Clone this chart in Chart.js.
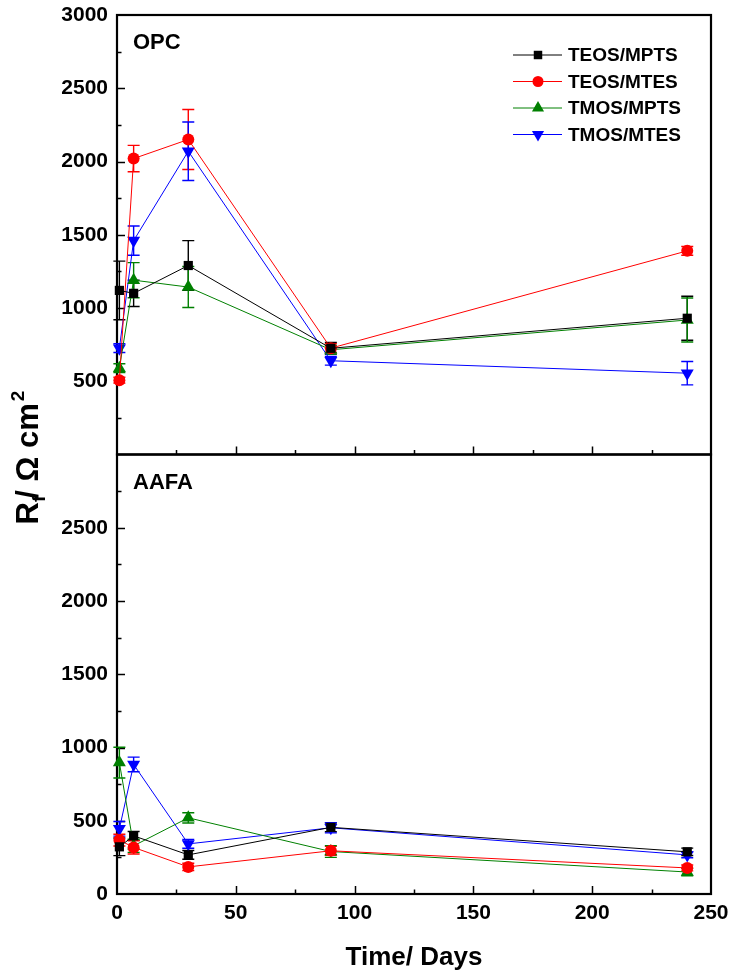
<!DOCTYPE html>
<html>
<head>
<meta charset="utf-8">
<script src="https://cdn.jsdelivr.net/npm/chart.js@4.4.1/dist/chart.umd.min.js"></script>
<style>
  html, body { margin: 0; padding: 0; background: #fff; }
  #wrap { width: 731px; height: 977px; }
</style>
</head>
<body>
<div id="wrap"><canvas id="rf_graph" width="731" height="977"></canvas></div>
<script>
// immersion time of each measurement
var days = [1, 7, 30, 90, 240];

var seriesNames = ["TEOS/MPTS", "TEOS/MTES", "TMOS/MPTS", "TMOS/MTES"];
var seriesColors = ["#000000", "#ff0000", "#008000", "#0000ff"];
var seriesStyles = ["rect", "circle", "triangle", "triangle"];
var seriesRotation = [0, 0, 0, 180];
var seriesRadius = [6.5, 6, 7.5, 7.5];

// film resistance on OPC
var opcTeosMpts = [1120, 1100, 1290, 725, 930];
var opcTeosMtes = [507, 2020, 2150, 726, 1390];
var opcTmosMpts = [589, 1190, 1143, 715, 918];
var opcTmosMtes = [726, 1460, 2070, 640, 555];
var opcTeosMptsErr = [200, 90, 170, 40, 150];
var opcTeosMtesErr = [20, 90, 205, 30, 30];
var opcTmosMptsErr = [30, 120, 140, 30, 150];
var opcTmosMtesErr = [30, 100, 200, 30, 80];

// film resistance on AAFA
var aafaTeosMpts = [322, 397, 267, 455, 288];
var aafaTeosMtes = [368, 318, 185, 295, 178];
var aafaTmosMpts = [897, 329, 520, 290, 150];
var aafaTmosMtes = [445, 884, 342, 452, 267];
var aafaTeosMptsErr = [60, 30, 30, 30, 25];
var aafaTeosMtesErr = [40, 45, 25, 30, 20];
var aafaTmosMptsErr = [105, 45, 35, 40, 25];
var aafaTmosMtesErr = [50, 50, 30, 35, 20];

var yTicks = [0, 500, 1000, 1500, 2000, 2500, 3000];
var xTicks = [0, 50, 100, 150, 200, 250];

var FONT = "'Liberation Sans', Arial, sans-serif";

var opcSeries = [opcTeosMpts, opcTeosMtes, opcTmosMpts, opcTmosMtes];
var opcErrors = [opcTeosMptsErr, opcTeosMtesErr, opcTmosMptsErr, opcTmosMtesErr];
var aafaSeries = [aafaTeosMpts, aafaTeosMtes, aafaTmosMpts, aafaTmosMtes];
var aafaErrors = [aafaTeosMptsErr, aafaTeosMtesErr, aafaTmosMptsErr, aafaTmosMtesErr];

function makeDataset(i, values, errors, axis) {
    return {
        label: seriesNames[i],
        data: days.map(function (d, k) { return { x: d, y: values[k] }; }),
        errorBars: errors,
        yAxisID: axis,
        borderColor: seriesColors[i],
        backgroundColor: seriesColors[i],
        borderWidth: 1,
        pointStyle: seriesStyles[i],
        rotation: seriesRotation[i],
        pointRadius: seriesRadius[i],
        pointBorderWidth: 0,
        pointBackgroundColor: seriesColors[i],
        tension: 0,
        clip: false
    };
}

var datasets = [];
for (var i = 0; i < 4; i++) datasets.push(makeDataset(i, opcSeries[i], opcErrors[i], "yOpc"));
for (var j = 0; j < 4; j++) datasets.push(makeDataset(j, aafaSeries[j], aafaErrors[j], "yAafa"));

function yAxis(hideValue) {
    return {
        type: "linear",
        position: "left",
        stack: "panels",
        stackWeight: 1,
        min: 0,
        max: 3000,
        afterBuildTicks: function (scale) {
            scale.ticks = yTicks.map(function (v) { return { value: v }; });
        },
        afterFit: function (scale) {
            scale.width = 117;
            scale.paddingTop = 0;
            scale.paddingBottom = 0;
        },
        ticks: {
            color: "#000",
            padding: 9,
            font: { family: FONT, size: 21, weight: "bold" },
            callback: function (v) { return v === hideValue ? "" : v; }
        },
        grid: { drawOnChartArea: false, drawTicks: false },
        border: { display: false }
    };
}

// frames, inward ticks and error bars
var panelPlugin = {
    id: "panelFrames",
    beforeDatasetsDraw: function (chart) {
        var ctx = chart.ctx;
        var area = chart.chartArea;
        var xs = chart.scales.x;
        ctx.save();
        ["yOpc", "yAafa"].forEach(function (id) {
            var ys = chart.scales[id];
            var top = ys.getPixelForValue(3000);
            var bottom = ys.getPixelForValue(0);
            ctx.strokeStyle = "#000";
            ctx.lineWidth = 1.5;
            ctx.beginPath();
            for (var v = 250; v < 3000; v += 250) {
                var py = Math.round(ys.getPixelForValue(v)) + 0.5;
                var len = v % 500 === 0 ? 8 : 4.5;
                ctx.moveTo(area.left, py);
                ctx.lineTo(area.left + len, py);
            }
            for (var t = 25; t < 250; t += 25) {
                var px = Math.round(xs.getPixelForValue(t)) + 0.5;
                var l2 = t % 50 === 0 ? 8 : 4.5;
                ctx.moveTo(px, bottom);
                ctx.lineTo(px, bottom - l2);
            }
            ctx.stroke();
            ctx.lineWidth = 2.2;
            ctx.strokeRect(area.left, top, area.right - area.left, bottom - top);
        });

        chart.data.datasets.forEach(function (ds, di) {
            var meta = chart.getDatasetMeta(di);
            var ys = chart.scales[ds.yAxisID];
            ctx.strokeStyle = ds.borderColor;
            ctx.lineWidth = 1.4;
            ctx.beginPath();
            ds.data.forEach(function (p, k) {
                var e = ds.errorBars[k];
                var px = meta.data[k].x;
                var y1 = ys.getPixelForValue(p.y + e);
                var y2 = ys.getPixelForValue(p.y - e);
                ctx.moveTo(px, y1);
                ctx.lineTo(px, y2);
                ctx.moveTo(px - 6, y1);
                ctx.lineTo(px + 6, y1);
                ctx.moveTo(px - 6, y2);
                ctx.lineTo(px + 6, y2);
            });
            ctx.stroke();
        });
        ctx.restore();
    },
    afterDraw: function (chart) {
        var ctx = chart.ctx;
        var area = chart.chartArea;
        ctx.save();
        ctx.fillStyle = "#000";
        ctx.textBaseline = "middle";
        ctx.textAlign = "left";
        ctx.font = "bold 22px " + FONT;
        ctx.fillText("OPC", area.left + 16, chart.scales.yOpc.top + 28);
        ctx.fillText("AAFA", area.left + 16, chart.scales.yAafa.top + 28);

        // legend: line - marker - line, then name
        ctx.font = "bold 19px " + FONT;
        for (var i = 0; i < 4; i++) {
            var ly = 55 + i * 26.5;
            ctx.strokeStyle = seriesColors[i];
            ctx.fillStyle = seriesColors[i];
            ctx.lineWidth = 1;
            ctx.beginPath();
            ctx.moveTo(513, ly);
            ctx.lineTo(562, ly);
            ctx.stroke();
            Chart.helpers.drawPoint(ctx, {
                pointStyle: seriesStyles[i],
                rotation: seriesRotation[i],
                radius: seriesRadius[i] - 0.5,
                borderWidth: 0
            }, 538, ly);
            ctx.fillStyle = "#000";
            ctx.fillText(seriesNames[i], 568, ly + 1);
        }

        // y title: R_f / Ω cm²
        ctx.translate(38, 457);
        ctx.rotate(-Math.PI / 2);
        ctx.textBaseline = "alphabetic";
        var big = "bold 31px " + FONT;
        var small = "bold 19px " + FONT;
        ctx.font = big;
        var wR = ctx.measureText("R").width;
        var wMid = ctx.measureText("/ \u03a9 cm").width;
        ctx.font = small;
        var wf = ctx.measureText("f").width;
        var w2 = ctx.measureText("2").width;
        var x0 = -(wR + wf + wMid + w2) / 2;
        ctx.font = big;
        ctx.fillText("R", x0, 0);
        ctx.font = small;
        ctx.fillText("f", x0 + wR, 7);
        ctx.font = big;
        ctx.fillText("/ \u03a9 cm", x0 + wR + wf - 3, 0);
        ctx.font = small;
        ctx.fillText("2", x0 + wR + wf + wMid - 1, -14);
        ctx.restore();
    }
};

var ctx = document.getElementById("rf_graph").getContext("2d");

new Chart(ctx, {
    type: "line",
    data: { datasets: datasets },
    plugins: [panelPlugin],
    options: {
        responsive: false,
        animation: false,
        devicePixelRatio: 1,
        events: [],
        layout: { padding: { top: 15, right: 20, left: 0, bottom: 0 } },
        plugins: { legend: { display: false }, tooltip: { enabled: false } },
        scales: {
            x: {
                type: "linear",
                position: "bottom",
                min: 0,
                max: 250,
                afterBuildTicks: function (scale) {
                    scale.ticks = xTicks.map(function (v) { return { value: v }; });
                },
                afterFit: function (scale) {
                    scale.height = 83;
                    scale.paddingLeft = 0;
                    scale.paddingRight = 0;
                },
                ticks: {
                    color: "#000",
                    padding: 7,
                    maxRotation: 0,
                    font: { family: FONT, size: 21, weight: "bold" }
                },
                grid: { drawOnChartArea: false, drawTicks: false },
                border: { display: false },
                title: {
                    display: true,
                    text: "Time/ Days",
                    color: "#000",
                    padding: { top: 0, bottom: 4 },
                    font: { family: FONT, size: 26, weight: "bold" }
                }
            },
            yAafa: yAxis(3000),
            yOpc: yAxis(0)
        }
    }
});
</script>
</body>
</html>
